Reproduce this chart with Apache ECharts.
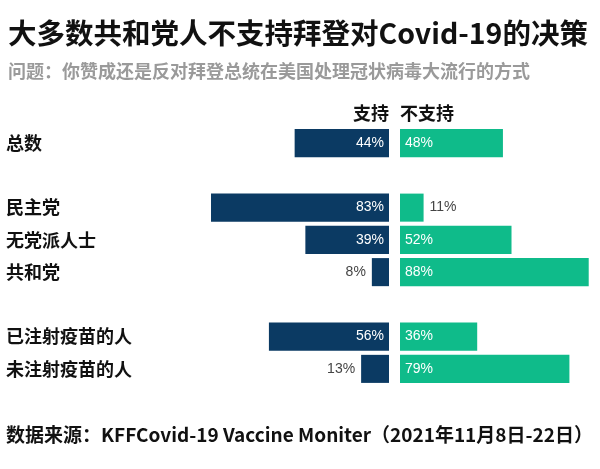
<!DOCTYPE html>
<html><head><meta charset="utf-8">
<script src="https://cdn.jsdelivr.net/npm/echarts@6/dist/echarts.min.js"></script>
<style>html,body{margin:0;padding:0;background:#fff}#c{width:600px;height:469px}</style>
</head><body><div id="c"></div>
<script>
const categories = ['总数', '', '民主党', '无党派人士', '共和党', '', '已注射疫苗的人', '未注射疫苗的人'];
const support = [44, null, 83, 39, 8, null, 56, 13];
const oppose = [48, null, 11, 52, 88, null, 36, 79];
const seriesNames = ['支持', '不支持'];
const titleText = '大多数共和党人不支持拜登对Covid-19的决策';
const subtitleText = '问题：你赞成还是反对拜登总统在美国处理冠状病毒大流行的方式';
const footerText = '数据来源：KFFCovid-19 Vaccine Moniter（2021年11月8日-22日）';

const CJK = '"Noto Sans CJK SC", "Noto Sans", sans-serif';
const NUM = '"Liberation Sans", Arial, sans-serif';
const NAVY = '#0b3a63';
const GREEN = '#0fbb8a';
const SMALL = 15;

function items(values, side) {
  return values.map(v => {
    if (v === null) return { value: null };
    const small = v < SMALL;
    return {
      value: v,
      label: small
        ? { position: side === 'left' ? 'left' : 'right', color: '#444', distance: 6 }
        : { position: side === 'left' ? 'insideRight' : 'insideLeft', color: '#fff', distance: 5 }
    };
  });
}

const chart = echarts.init(document.getElementById('c'));
const gridTop = 127, gridH = 258;
chart.setOption({
  animation: false,
  grid: [
    { left: 196, top: gridTop, width: 193, height: gridH },
    { left: 400, top: gridTop, width: 193, height: gridH }
  ],
  xAxis: [
    { gridIndex: 0, type: 'value', min: 0, max: 90, inverse: true, show: false },
    { gridIndex: 1, type: 'value', min: 0, max: 90, show: false }
  ],
  yAxis: [
    { gridIndex: 0, type: 'category', data: categories, inverse: true, position: 'left',
      axisLine: { show: false }, axisTick: { show: false }, splitLine: { show: false },
      axisLabel: { align: 'left', margin: 190, color: '#111', fontFamily: CJK, fontWeight: 'bold', fontSize: 18 } },
    { gridIndex: 1, type: 'category', data: categories, inverse: true, show: false }
  ],
  series: [
    { name: seriesNames[0], type: 'bar', xAxisIndex: 0, yAxisIndex: 0, barCategoryGap: '13%',
      itemStyle: { color: NAVY }, data: items(support, 'left'),
      label: { show: true, formatter: '{c}%', fontFamily: NUM, fontSize: 14 } },
    { name: seriesNames[1], type: 'bar', xAxisIndex: 1, yAxisIndex: 1, barCategoryGap: '13%',
      itemStyle: { color: GREEN }, data: items(oppose, 'right'),
      label: { show: true, formatter: '{c}%', fontFamily: NUM, fontSize: 14 } }
  ],
  graphic: [
    { type: 'text', left: 8, top: 19, style: { text: titleText, font: 'bold 28.5px ' + CJK, fill: '#111' } },
    { type: 'text', left: 8, top: 62, style: { text: subtitleText, font: 'bold 18px ' + CJK, fill: '#9a9a9a' } },
    { type: 'text', right: 211, top: 104, style: { text: seriesNames[0], font: 'bold 18px ' + CJK, fill: '#111' } },
    { type: 'text', left: 400, top: 104, style: { text: seriesNames[1], font: 'bold 18px ' + CJK, fill: '#111' } },
    { type: 'text', left: 6, top: 425, style: { text: footerText, font: 'bold 19px ' + CJK, fill: '#111' } }
  ]
});
</script></body></html>
